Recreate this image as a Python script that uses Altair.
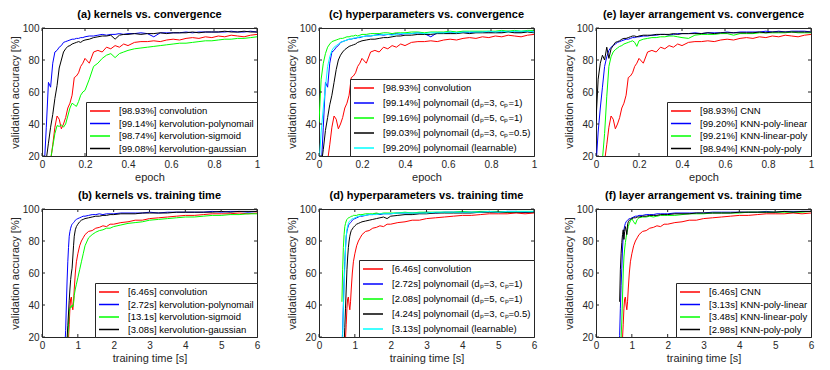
import altair as alt
import pandas as pd

FONT = "Liberation Sans"
RED, BLUE, GREEN, BLACK, CYAN = "#ff0000", "#0000ff", "#00ff00", "#000000", "#00ffff"

# ---------------- top row: accuracy vs. epoch ----------------
epoch = [0.00, 0.01, 0.02, 0.03, 0.04, 0.05, 0.06, 0.07, 0.08, 0.09,
         0.10, 0.11, 0.12, 0.13, 0.14, 0.15, 0.16, 0.17, 0.18, 0.19,
         0.20, 0.22, 0.24, 0.26, 0.28, 0.30, 0.32, 0.34, 0.36, 0.38,
         0.40, 0.43, 0.46, 0.49, 0.52, 0.55, 0.58, 0.61, 0.64, 0.67,
         0.70, 0.73, 0.76, 0.79, 0.82, 0.85, 0.88, 0.91, 0.94, 0.97,
         1.00]

conv_top = [10, 10, 11, 13, 17, 27, 38, 45, 43, 37,
            40, 44, 50, 53, 58, 69, 70, 72, 76, 78,
            81, 78, 85, 86, 85, 88, 87, 89, 88, 90,
            89, 91, 91.5, 91.5, 92, 91.5, 92.5, 93, 92.5, 93.5,
            94, 93.5, 94.5, 94, 95, 94.5, 95.5, 95, 94.5, 95.5,
            96]
poly_top = [10, 12, 38, 66, 63, 78, 85, 86, 88, 89,
            91, 91.5, 92, 92.5, 93, 93, 93.5, 93.5, 94, 94,
            94.5, 95, 95, 95.5, 96, 95.5, 96, 96, 96.5, 96,
            96.5, 96.5, 97, 96.5, 94.5, 97, 97, 97, 97, 97.5,
            97, 97.5, 97.5, 97.5, 97.5, 97.5, 98, 97.5, 97.5, 98,
            97.5]
sig_top = [10, 10, 10, 12, 18, 26, 34, 39, 38.5, 39.5,
           38, 40, 45, 50, 53, 52, 51, 54, 58, 60,
           61, 68, 76, 78, 81, 83, 84, 81.5, 84, 85,
           86, 87, 87.5, 88, 88.5, 89, 89.5, 90, 90.5, 90.5,
           91, 91.5, 92, 92, 92.5, 93, 93, 93.5, 93.5, 94,
           94.5]
gauss_top = [10, 11, 18, 28, 38, 46, 56, 64, 75, 80,
             85, 87, 88.5, 89, 90, 90.5, 91, 91.5, 91, 92,
             92.5, 93, 94, 94.5, 95, 95, 95.5, 93, 95.5, 96,
             96, 96.5, 96, 96.5, 96.5, 97, 96.5, 97, 97, 97,
             97.5, 97, 97.5, 97.5, 97.5, 98, 97.5, 97.5, 98, 97.5,
             97.5]
p5_top = [41, 68, 78, 84, 88, 90, 91.5, 92, 92.5, 93,
          93.5, 93.5, 94, 94.5, 94.5, 95, 95, 95.5, 95, 95.5,
          96, 96, 96.5, 96.5, 96.5, 97, 97, 96.5, 97, 97,
          97, 97.5, 97.5, 97, 97.5, 97.5, 97.5, 98, 97.5, 98,
          98, 98, 98, 98, 98, 98.5, 98, 98.5, 98, 98.5,
          98.5]
p3c05_top = [10, 14, 24, 36, 44, 52, 58, 66, 74, 80,
             83, 85, 86.5, 87.5, 88.5, 89, 89.5, 90, 91, 91.5,
             92, 92.5, 93, 93, 93.5, 94, 94, 94.5, 95, 95,
             95.5, 95.5, 96, 96, 96, 96.5, 96.5, 96.5, 96.5, 97,
             96.5, 97, 97, 97, 97, 97, 97.5, 97, 97, 97.5,
             97]
learn_top = [14, 35, 50, 63, 76, 82, 86, 88, 89, 90,
             91, 91.5, 92, 92.5, 93, 93, 93.5, 94, 94, 94.5,
             94.5, 95, 95, 95.5, 95.5, 96, 96, 95.5, 96, 96.5,
             96.5, 96.5, 97, 96.5, 97, 97, 97, 97.5, 97, 97.5,
             97.5, 97.5, 97.5, 98, 97.5, 98, 97.5, 98, 98, 98,
             97.5]
linpoly_top = [10, 10, 13, 18, 34, 57, 76, 82, 85, 86.5,
               87.5, 88.5, 89, 90, 90.5, 91, 91.5, 92, 91, 88.5,
               92, 93, 93.5, 94, 94, 94.5, 94.5, 95, 95, 94.5,
               94, 93.5, 95.5, 96, 96, 96, 96.5, 96.5, 95.5, 96.5,
               96.5, 96.5, 97, 97, 97, 97, 97, 97.5, 97, 97,
               97]
polypoly_top = [42, 68, 78, 83, 80, 88, 81, 87, 89, 91,
                91.5, 92, 93, 93.5, 93.5, 94, 94.5, 95, 95, 94.5,
                95, 95.5, 95.5, 95.5, 96, 96, 96, 96, 96.5, 96,
                96.5, 96.5, 96.5, 96.5, 97, 96.5, 97, 97, 97, 97,
                97, 97, 97.5, 97, 97.5, 97.5, 97.5, 97.5, 97.5, 97.5,
                97.5]

# ---------------- bottom row: accuracy vs. training time ----------------
time_s = [0.60, 0.62, 0.64, 0.66, 0.68, 0.70, 0.72, 0.74, 0.76, 0.78,
          0.80, 0.82, 0.84, 0.86, 0.88, 0.90, 0.93, 0.96, 1.00, 1.05,
          1.10, 1.15, 1.20, 1.30, 1.40, 1.50, 1.60, 1.70, 1.80, 1.90,
          2.00, 2.20, 2.40, 2.60, 2.80, 3.00, 3.25, 3.50, 3.75, 4.00,
          4.25, 4.50, 4.75, 5.00, 5.25, 5.50, 5.75, 6.00]

conv_bot = [3, 4, 5, 6, 8, 10, 14, 19, 28, 38,
            44, 45, 40, 37, 42, 50, 60, 67, 72, 77,
            80, 82, 84, 86, 86.5, 88, 88.5, 89.5, 89, 90.5,
            90.5, 91.5, 92, 93, 93, 94, 94.5, 95, 95.5, 96,
            96, 96.5, 97, 97, 97, 97.5, 97, 97.5]
poly_bot = [5, 8, 15, 24, 40, 55, 67, 76, 83, 86,
            88, 89.5, 90.5, 91, 91.5, 92, 93, 93.5, 94, 94.5,
            95, 95.5, 95.5, 96, 96.5, 96.5, 97, 96.5, 97, 97,
            97, 97.5, 97.5, 97.5, 97.5, 98, 97.5, 98, 98, 98,
            98, 98, 98.5, 98, 98.5, 98.5, 98, 98.5]
sig_bot = [3, 4, 5, 6, 8, 12, 20, 28, 36, 38,
           39, 38.5, 40, 39, 41, 46, 50, 53, 57, 62,
           67, 72, 77, 82, 84, 85.5, 86.5, 87, 88, 88,
           89, 90, 91, 91.5, 92, 93, 93.5, 94, 94.5, 95,
           95, 95.5, 96, 96, 96.5, 96.5, 97, 97]
gauss_bot = [3, 4, 5, 8, 12, 19, 27, 35, 43, 50,
             56, 60, 63, 70, 77, 83, 87, 89, 90.5, 92,
             93, 93.5, 94, 94.5, 95, 95.5, 95.5, 96, 96, 96.5,
             96.5, 97, 97, 97, 97.5, 97.5, 97.5, 97.5, 98, 98,
             98, 98, 98, 98.5, 98, 98.5, 98.5, 98.5]
p5_bot = [None, None, 42, 62, 76, 84, 89, 91, 92.5, 93.5,
          94, 94.5, 94.5, 95, 95, 95.5, 95.5, 96, 96, 96,
          96.5, 96.5, 96.5, 97, 97, 97, 97.5, 97, 97.5, 97.5,
          97.5, 97.5, 98, 97.5, 98, 98, 98, 98, 98, 98.5,
          98, 98.5, 98.5, 98.5, 98, 98.5, 98.5, 98.5]
learn_bot = [3, 5, 10, 21, 38, 52, 63, 75, 83, 87,
             89.5, 91, 92, 92.5, 93, 93.5, 94, 94, 94.5, 95,
             95.5, 95.5, 96, 96, 96.5, 96.5, 96.5, 97, 97, 97,
             97, 97.5, 97.5, 97.5, 97.5, 97.5, 98, 98, 98, 98,
             98, 98, 98.5, 98, 98.5, 98.5, 98.5, 98.5]
p3c05_bot = [3, 4, 5, 7, 10, 16, 26, 38, 50, 62,
             70, 76, 80, 83, 85, 86.5, 87.5, 88.5, 89.5, 90.5,
             91, 91.5, 92, 92.5, 93, 93.5, 94, 94.5, 95, 94,
             95.5, 96, 96.5, 96.5, 97, 97, 97.5, 97.5, 97.5, 97.5,
             97.5, 98, 98, 98, 98, 98, 98, 98]
polypoly_bot = [None, None, None, 42, 62, 72, 79, 84, 87, 81,
                86, 89, 87, 84, 90, 92, 93, 93.5, 94, 94.5,
                94.5, 95, 95, 95.5, 95.5, 96, 96, 96, 96.5, 96.5,
                96.5, 97, 97, 97, 97.5, 97.5, 97.5, 97.5, 97.5, 98,
                98, 98, 98, 98, 98.5, 98, 98.5, 98.5]
linpoly_bot = [3, 4, 5, 8, 12, 19, 30, 45, 60, 70,
               75, 79, 82, 85, 87, 89, 91, 92.5, 94, 92,
               90.5, 93.5, 94.5, 95, 95, 95.5, 95, 95.5, 96, 96,
               96, 96, 96.5, 97, 97, 97, 97.5, 97.5, 97.5, 97.5,
               98, 98, 98, 98, 98, 98, 98, 98.5]

y_ticks = [20, 40, 60, 80, 100]
epoch_ticks = [0, 0.2, 0.4, 0.6, 0.8, 1]
time_ticks = [0, 1, 2, 3, 4, 5, 6]

W, H = 215, 128
AX = "#262626"
YT = "validation accuracy [%]"


def panel(title, xs, xtitle, xdom, xticks, series, row_pad):
    rows = []
    for label, color, ys in series:
        for xv, yv in zip(xs, ys):
            rows.append({"x": xv, "y": yv, "label": label})
    df = pd.DataFrame(rows)
    labels = [s[0] for s in series]
    colors = [s[1] for s in series]
    xsc = alt.Scale(domain=xdom, nice=False, zero=False)
    ysc = alt.Scale(domain=[20, 100], nice=False, zero=False)
    xax = alt.Axis(values=xticks, format="~g", labelFlush=False, title=xtitle)
    yax = alt.Axis(values=y_ticks, title=YT)
    lines = alt.Chart(df).mark_line(strokeWidth=1, clip=True).encode(
        x=alt.X("x:Q", scale=xsc, axis=xax),
        y=alt.Y("y:Q", scale=ysc, axis=yax),
        color=alt.Color(
            "label:N",
            sort=labels,
            scale=alt.Scale(domain=labels, range=colors),
            legend=alt.Legend(
                title=None, orient="bottom-right", offset=0,
                fillColor="white", strokeColor=AX, padding=3,
                rowPadding=row_pad, symbolType="M-2,0H2", symbolSize=100,
                symbolStrokeWidth=1.5, symbolOffset=5, labelOffset=13,
                labelFont=FONT, labelFontSize=9.5, labelColor="black",
                labelLimit=300,
            ),
        ),
    )
    xt = pd.DataFrame({"x": xticks})
    yt = pd.DataFrame({"y": y_ticks})
    tb = alt.Chart(xt).mark_rule(color=AX, strokeWidth=1).encode(
        x=alt.X("x:Q", scale=xsc, axis=xax), y=alt.value(H), y2=alt.value(H - 3))
    tt = alt.Chart(xt).mark_rule(color=AX, strokeWidth=1).encode(
        x=alt.X("x:Q", scale=xsc, axis=xax), y=alt.value(0), y2=alt.value(3))
    tl = alt.Chart(yt).mark_rule(color=AX, strokeWidth=1).encode(
        y=alt.Y("y:Q", scale=ysc, axis=yax), x=alt.value(0), x2=alt.value(3))
    tr = alt.Chart(yt).mark_rule(color=AX, strokeWidth=1).encode(
        y=alt.Y("y:Q", scale=ysc, axis=yax), x=alt.value(W), x2=alt.value(W - 3))
    return alt.layer(lines, tb, tt, tl, tr).properties(
        width=W, height=H,
        title=alt.TitleParams(title, font=FONT, fontSize=11, fontWeight="bold",
                              color="black", offset=3, anchor="middle"),
    )


pa = panel("(a) kernels vs. convergence", epoch, "epoch", [0, 1], epoch_ticks, [
    ("[98.93%] convolution", RED, conv_top),
    ("[99.14%] kervolution-polynomail", BLUE, poly_top),
    ("[98.74%] kervolution-sigmoid", GREEN, sig_top),
    ("[99.08%] kervolution-gaussian", BLACK, gauss_top),
], 1.5)
pc = panel("(c) hyperparameters vs. convergence", epoch, "epoch", [0, 1], epoch_ticks, [
    ("[98.93%] convolution", RED, conv_top),
    ("[99.14%] polynomail (dₚ=3, cₚ=1)", BLUE, poly_top),
    ("[99.16%] polynomail (dₚ=5, cₚ=1)", GREEN, p5_top),
    ("[99.03%] polynomail (dₚ=3, cₚ=0.5)", BLACK, p3c05_top),
    ("[99.20%] polynomail (learnable)", CYAN, learn_top),
], 4)
pe = panel("(e) layer arrangement vs. convergence", epoch, "epoch", [0, 1], epoch_ticks, [
    ("[98.93%] CNN", RED, conv_top),
    ("[99.20%] KNN-poly-linear", BLUE, learn_top),
    ("[99.21%] KNN-linear-poly", GREEN, linpoly_top),
    ("[98.94%] KNN-poly-poly", BLACK, polypoly_top),
], 1.5)
pb = panel("(b) kernels vs. training time", time_s, "training time [s]", [0, 6], time_ticks, [
    ("[6.46s] convolution", RED, conv_bot),
    ("[2.72s] kervolution-polynomail", BLUE, poly_bot),
    ("[13.1s] kervolution-sigmoid", GREEN, sig_bot),
    ("[3.08s] kervolution-gaussian", BLACK, gauss_bot),
], 1.5)
pd_ = panel("(d) hyperparameters vs. training time", time_s, "training time [s]", [0, 6], time_ticks, [
    ("[6.46s] convolution", RED, conv_bot),
    ("[2.72s] polynomail (dₚ=3, cₚ=1)", BLUE, poly_bot),
    ("[2.08s] polynomail (dₚ=5, cₚ=1)", GREEN, p5_bot),
    ("[4.24s] polynomail (dₚ=3, cₚ=0.5)", BLACK, p3c05_bot),
    ("[3.13s] polynomail (learnable)", CYAN, learn_bot),
], 4)
pf = panel("(f) layer arrangement vs. training time", time_s, "training time [s]", [0, 6], time_ticks, [
    ("[6.46s] CNN", RED, conv_bot),
    ("[3.13s] KNN-poly-linear", BLUE, learn_bot),
    ("[3.48s] KNN-linear-poly", GREEN, linpoly_bot),
    ("[2.98s] KNN-poly-poly", BLACK, polypoly_bot),
], 1.5)

top = alt.hconcat(pa, pc, pe, spacing=24).resolve_scale(color="independent", x="independent", y="independent")
bot = alt.hconcat(pb, pd_, pf, spacing=24).resolve_scale(color="independent", x="independent", y="independent")

chart = alt.vconcat(top, bot, spacing=6).resolve_scale(
    color="independent", x="independent", y="independent"
).properties(padding=0, background="white").configure_view(
    stroke=AX, strokeWidth=1
).configure_axis(
    labelFont=FONT, titleFont=FONT, labelFontSize=10, titleFontSize=11,
    titleFontWeight="normal", labelColor=AX, titleColor=AX,
    domain=False, ticks=False, grid=False, labelPadding=3, titlePadding=2,
)

chart.save("out.html", embed_options={"renderer": "svg", "actions": False})
